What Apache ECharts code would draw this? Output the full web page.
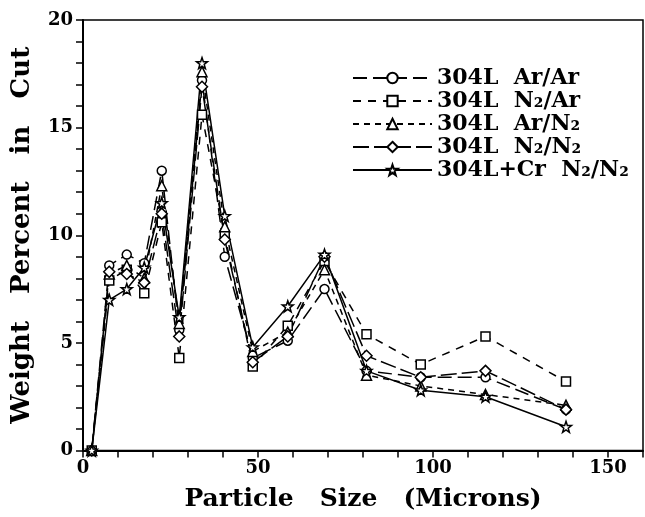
<!DOCTYPE html>
<html>
<head>
<meta charset="utf-8">
<script src="https://cdn.jsdelivr.net/npm/echarts@6/dist/echarts.min.js"></script>
<style>
  html, body { margin: 0; padding: 0; background: #fff; }
  #main { width: 645px; height: 517px; }
</style>
</head>
<body>
<div id="main"></div>
<script>
    // particle sizes (microns)
    var sizes = [2.5, 7.5, 12.5, 17.5, 22.5, 27.5, 34, 40.5, 48.5, 58.5, 69, 81, 96.5, 115, 138]

    // weight percent in cut
    var arAr   = [0, 8.6, 9.1, 8.7, 13.0, 5.6, 17.2, 9.0, 4.3, 5.1, 7.5, 3.7, 3.4, 3.4, 1.9]
    var n2Ar   = [0, 7.9, 8.4, 7.3, 10.6, 4.3, 15.6, 10.0, 3.9, 5.8, 8.8, 5.4, 4.0, 5.3, 3.2]
    var arN2   = [0, 8.2, 8.6, 8.0, 12.3, 5.9, 17.6, 10.4, 4.6, 5.5, 8.4, 3.5, 3.0, 2.6, 2.1]
    var n2N2   = [0, 8.3, 8.2, 7.8, 11.0, 5.3, 16.9, 9.8, 4.1, 5.3, 9.0, 4.4, 3.4, 3.7, 1.9]
    var crN2N2 = [0, 7.0, 7.5, 8.5, 11.5, 6.2, 18.0, 10.9, 4.8, 6.7, 9.1, 3.7, 2.8, 2.5, 1.1]

    var names = ['304L  Ar/Ar', '304L  N₂/Ar', '304L  Ar/N₂', '304L  N₂/N₂', '304L+Cr  N₂/N₂']
    var xTicks = [0, 50, 100, 150]
    var yTicks = [0, 5, 10, 15, 20]

    var starPath = 'path://M0,-10 L2.35,-3.24 L9.51,-3.09 L3.8,1.24 L5.88,8.09 L0,4 L-5.88,8.09 L-3.8,1.24 L-9.51,-3.09 L-2.35,-3.24 Z'
    var serif = 'DejaVu Serif'

    function pairs(vals) {
        return sizes.map(function (s, i) { return [s, vals[i]] })
    }

    function mkSeries(name, vals, symbol, dash, size) {
        return {
            name: name,
            type: 'line',
            data: pairs(vals),
            symbol: symbol,
            symbolSize: size,
            showAllSymbol: true,
            itemStyle: { color: '#fff', borderColor: '#000', borderWidth: 1.5 },
            lineStyle: { color: '#000', width: 1.5, type: dash },
            emphasis: { disabled: true },
            z: 2
        }
    }

    var myChart = echarts.init(document.getElementById('main'))

    var option = {
        backgroundColor: '#fff',
        animation: false,
        grid: {
            left: 83, right: 2, top: 20, bottom: 66.5,
            show: true, borderColor: '#000', borderWidth: 1.5, backgroundColor: 'transparent'
        },
        legend: {
            orient: 'vertical',
            left: 347,
            top: 62,
            itemWidth: 79,
            itemHeight: 13,
            itemGap: 1,
            textStyle: { fontFamily: serif, fontWeight: 'bold', fontSize: 22, color: '#000', lineHeight: 22 },
            data: names
        },
        xAxis: {
            type: 'value',
            min: 0, max: 160, interval: 50,
            name: 'Particle   Size   (Microns)',
            nameLocation: 'middle',
            nameGap: 36,
            nameTextStyle: { fontFamily: serif, fontWeight: 'bold', fontSize: 25, color: '#000' },
            axisLine: { lineStyle: { color: '#000', width: 2 } },
            axisTick: { length: 7, lineStyle: { color: '#000', width: 1.5 } },
            minorTick: { show: true, splitNumber: 5, length: 7, lineStyle: { color: '#000', width: 1.5 } },
            splitLine: { show: false },
            axisLabel: {
                margin: 9, showMaxLabel: false,
                fontFamily: serif, fontWeight: 'bold', fontSize: 18, color: '#000',
                formatter: function (v) { return xTicks.indexOf(v) >= 0 ? String(v) : '' }
            }
        },
        yAxis: {
            type: 'value',
            min: 0, max: 20, interval: 5,
            name: 'Weight   Percent   in   Cut',
            nameLocation: 'middle',
            nameGap: 48,
            nameTextStyle: { fontFamily: serif, fontWeight: 'bold', fontSize: 26, color: '#000' },
            axisLine: { lineStyle: { color: '#000', width: 2 } },
            axisTick: { length: 7, lineStyle: { color: '#000', width: 1.5 } },
            minorTick: { show: true, splitNumber: 5, length: 7, lineStyle: { color: '#000', width: 1.5 } },
            splitLine: { show: false },
            axisLabel: {
                margin: 10,
                fontFamily: serif, fontWeight: 'bold', fontSize: 18, color: '#000',
                formatter: function (v) { return yTicks.indexOf(v) >= 0 ? String(v) : '' }
            }
        },
        series: [
            mkSeries(names[0], arAr, 'circle', [14, 6], 9),
            mkSeries(names[1], n2Ar, 'rect', [8, 7], 9),
            mkSeries(names[2], arN2, 'triangle', [6, 5], 10),
            mkSeries(names[3], n2N2, 'diamond', [16, 5], 11),
            mkSeries(names[4], crN2N2, starPath, 'solid', 11)
        ]
    }

    myChart.setOption(option)
</script>
</body>
</html>
